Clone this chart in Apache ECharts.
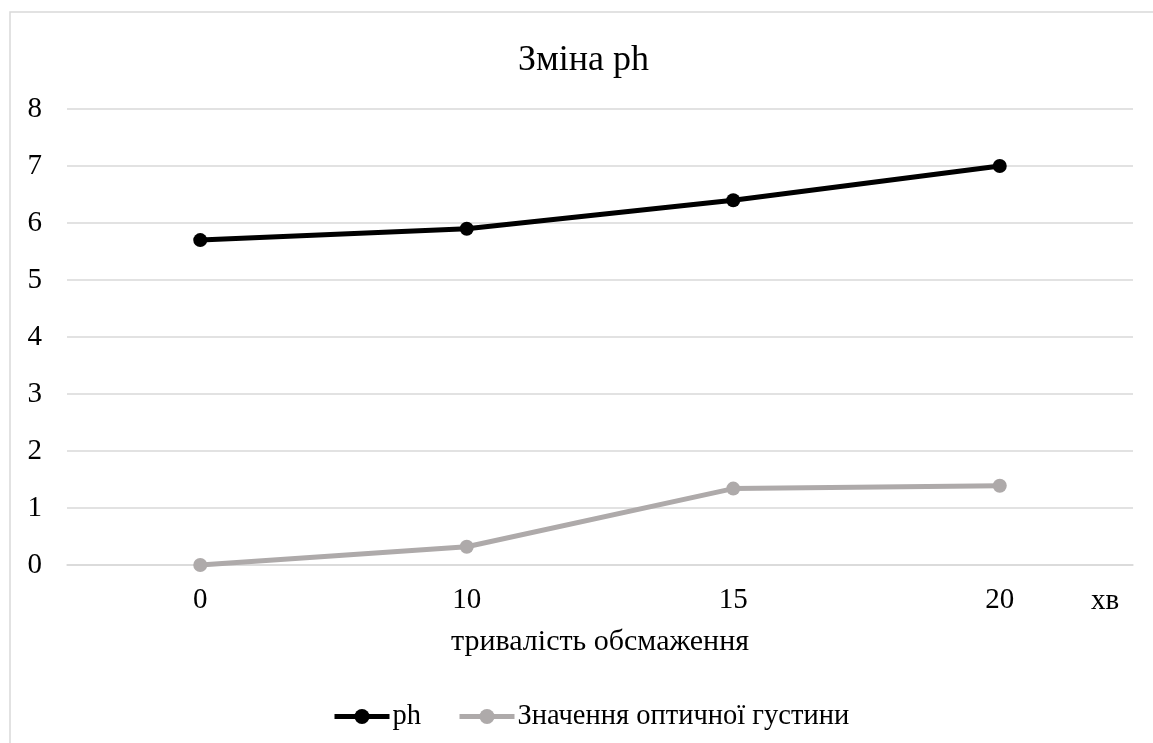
<!DOCTYPE html>
<html>
<head>
<meta charset="utf-8">
<script src="https://cdn.jsdelivr.net/npm/echarts@6/dist/echarts.min.js"></script>
<style>
  html, body { margin: 0; padding: 0; background: #fff; }
  #chart { width: 1153px; height: 743px; }
</style>
</head>
<body>
<div id="chart"></div>
<script>
// Frying time, minutes
const categories = ['0', '10', '15', '20'];
// pH values over frying time
const phValues = [5.7, 5.9, 6.4, 7.0];
// Optical density values over frying time
const densityValues = [0, 0.32, 1.34, 1.39];
const yTicks = { min: 0, max: 8, interval: 1 };

const serif = '"Liberation Serif", "Times New Roman", serif';
const chart = echarts.init(document.getElementById('chart'));

chart.setOption({
  animation: false,
  backgroundColor: '#fff',
  title: {
    text: 'Зміна ph',
    left: 513,
    top: 38,
    textStyle: { fontFamily: serif, fontSize: 36, fontWeight: 'normal', color: '#000' }
  },
  graphic: [
    {
      type: 'rect',
      shape: { x: 10, y: 12, width: 1300, height: 900 },
      style: { fill: 'none', stroke: '#d9d9d9', lineWidth: 1.5 },
      silent: true
    },
    {
      type: 'text',
      x: 1105, y: 601,
      style: {
        text: 'хв', fontFamily: serif, fontSize: 29, fill: '#000',
        align: 'center', verticalAlign: 'middle'
      }
    }
  ],
  grid: { left: 67, right: 20, top: 109, bottom: 178 },
  legend: {
    top: 697,
    left: 327,
    itemWidth: 55,
    itemHeight: 19,
    itemGap: 36,
    lineStyle: { width: 5 },
    textStyle: { fontFamily: serif, fontSize: 28.5, color: '#000', padding: [0, 0, 0, -2] },
    data: ['ph', 'Значення оптичної густини']
  },
  xAxis: {
    type: 'category',
    data: categories,
    boundaryGap: true,
    name: 'тривалість обсмаження',
    nameLocation: 'middle',
    nameGap: 62,
    nameTextStyle: { fontFamily: serif, fontSize: 30, color: '#000' },
    axisLine: { show: true, lineStyle: { color: '#d9d9d9', width: 1.5 } },
    axisTick: { show: false },
    axisLabel: { margin: 21, fontFamily: serif, fontSize: 29, color: '#000' },
    splitLine: { show: false }
  },
  yAxis: {
    type: 'value',
    min: yTicks.min,
    max: yTicks.max,
    interval: yTicks.interval,
    axisLine: { show: false },
    axisTick: { show: false },
    axisLabel: { margin: 25, fontFamily: serif, fontSize: 29, color: '#000' },
    splitLine: { lineStyle: { color: '#d9d9d9', width: 1.5 } }
  },
  series: [
    {
      name: 'ph',
      type: 'line',
      data: phValues,
      symbol: 'circle',
      symbolSize: 14,
      lineStyle: { color: '#000', width: 5 },
      itemStyle: { color: '#000' }
    },
    {
      name: 'Значення оптичної густини',
      type: 'line',
      data: densityValues,
      symbol: 'circle',
      symbolSize: 14,
      lineStyle: { color: '#aeaaaa', width: 5 },
      itemStyle: { color: '#aeaaaa' }
    }
  ]
});
</script>
</body>
</html>
